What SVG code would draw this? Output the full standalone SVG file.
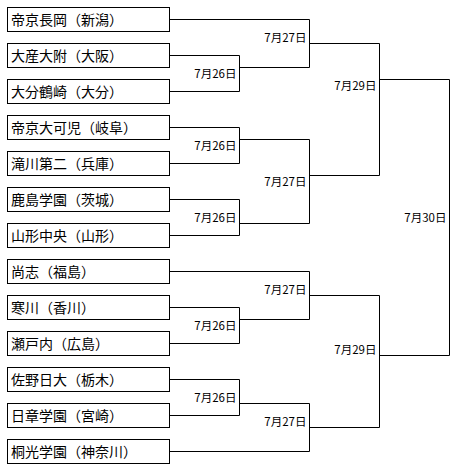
<svg xmlns="http://www.w3.org/2000/svg" width="459" height="468" viewBox="0 0 459 468">
<style>
.box{fill:#fff;stroke:#000;stroke-width:1}
.name{font-family:"Noto Sans CJK JP","Noto Sans CJK SC",sans-serif;font-size:14px;fill:#000}
.date{font-family:"Noto Sans CJK JP","Noto Sans CJK SC",sans-serif;font-size:11.5px;fill:#000;text-anchor:end}
.ln{fill:none;stroke:#000;stroke-width:1}
</style>
<rect width="459" height="468" fill="#fff"/>
<g id="connectors" class="ln">
<path d="M169.5 19.5H309.5V67.5"/>
<path d="M169.5 55.5H239.5V91.5H169.5M239.5 67.5H309.5"/>
<path d="M309.5 43.5H379.5"/>
<path d="M169.5 127.5H239.5V163.5H169.5M239.5 139.5H309.5V223.5H239.5"/>
<path d="M169.5 199.5H239.5V235.5H169.5"/>
<path d="M309.5 175.5H379.5"/>
<path d="M379.5 43.5V175.5M379.5 79.5H449.5V355.5H379.5"/>
<path d="M169.5 271.5H309.5V319.5H239.5"/>
<path d="M169.5 307.5H239.5V343.5H169.5"/>
<path d="M309.5 295.5H379.5V427.5H309.5"/>
<path d="M169.5 379.5H239.5V415.5H169.5M239.5 403.5H309.5V451.5H169.5"/>
</g>
<g id="labels">
<text class="date" x="236.5" y="78.2">7月26日</text>
<text class="date" x="306.5" y="42.2">7月27日</text>
<text class="date" x="376.5" y="90.2">7月29日</text>
<text class="date" x="236.5" y="150.2">7月26日</text>
<text class="date" x="306.5" y="186.2">7月27日</text>
<text class="date" x="236.5" y="222.2">7月26日</text>
<text class="date" x="446.5" y="222.2">7月30日</text>
<text class="date" x="306.5" y="294.2">7月27日</text>
<text class="date" x="236.5" y="330.2">7月26日</text>
<text class="date" x="376.5" y="354.2">7月29日</text>
<text class="date" x="236.5" y="402.2">7月26日</text>
<text class="date" x="306.5" y="426.2">7月27日</text>
</g>
<g id="team0"><rect class="box" x="7.5" y="7.5" width="162" height="24"/><text class="name" x="11" y="25">帝京長岡（新潟）</text></g>
<g id="team1"><rect class="box" x="7.5" y="43.5" width="162" height="24"/><text class="name" x="11" y="61">大産大附（大阪）</text></g>
<g id="team2"><rect class="box" x="7.5" y="79.5" width="162" height="24"/><text class="name" x="11" y="97">大分鶴崎（大分）</text></g>
<g id="team3"><rect class="box" x="7.5" y="115.5" width="162" height="24"/><text class="name" x="11" y="133">帝京大可児（岐阜）</text></g>
<g id="team4"><rect class="box" x="7.5" y="151.5" width="162" height="24"/><text class="name" x="11" y="169">滝川第二（兵庫）</text></g>
<g id="team5"><rect class="box" x="7.5" y="187.5" width="162" height="24"/><text class="name" x="11" y="205">鹿島学園（茨城）</text></g>
<g id="team6"><rect class="box" x="7.5" y="223.5" width="162" height="24"/><text class="name" x="11" y="241">山形中央（山形）</text></g>
<g id="team7"><rect class="box" x="7.5" y="259.5" width="162" height="24"/><text class="name" x="11" y="277">尚志（福島）</text></g>
<g id="team8"><rect class="box" x="7.5" y="295.5" width="162" height="24"/><text class="name" x="11" y="313">寒川（香川）</text></g>
<g id="team9"><rect class="box" x="7.5" y="331.5" width="162" height="24"/><text class="name" x="11" y="349">瀬戸内（広島）</text></g>
<g id="team10"><rect class="box" x="7.5" y="367.5" width="162" height="24"/><text class="name" x="11" y="385">佐野日大（栃木）</text></g>
<g id="team11"><rect class="box" x="7.5" y="403.5" width="162" height="24"/><text class="name" x="11" y="421">日章学園（宮崎）</text></g>
<g id="team12"><rect class="box" x="7.5" y="439.5" width="162" height="24"/><text class="name" x="11" y="457">桐光学園（神奈川）</text></g>
</svg>
